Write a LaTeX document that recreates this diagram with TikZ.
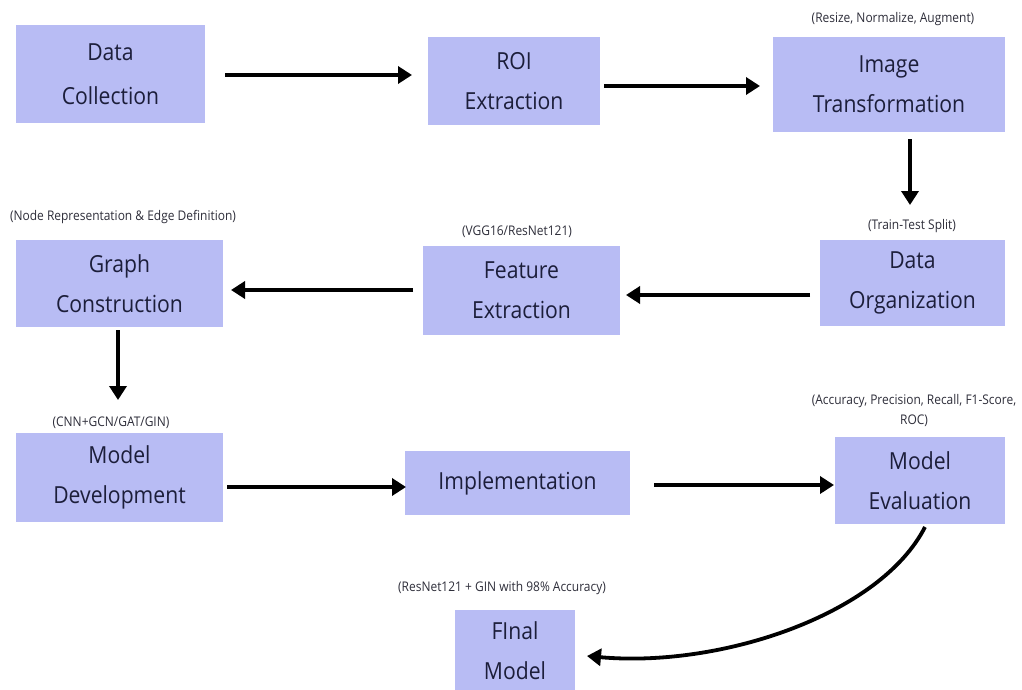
\documentclass[tikz,border=0pt]{standalone}
\usepackage{fontspec}
\setmainfont{Open Sans}[FakeStretch=0.9]
\usetikzlibrary{arrows.meta}
\definecolor{boxfill}{HTML}{B8BCF4}
\definecolor{boxtext}{HTML}{1C1E3A}
\definecolor{labtext}{HTML}{2E2E3A}
\tikzset{
  stepbox/.style={rectangle, fill=boxfill, draw=none, align=center, text=boxtext,
    font=\fontsize{23.5}{40}\selectfont, inner sep=0pt},
  lab/.style={text=labtext, font=\fontsize{13.3}{20}\selectfont, align=center, inner sep=0pt},
  flow/.style={line width=3.8pt, -{Triangle[length=14pt,width=17pt]}},
}
\begin{document}
\begin{tikzpicture}[x=1pt,y=-1pt]
\useasboundingbox (0,0) rectangle (1022,690);
\fill[white] (0,0) rectangle (1022,690);
% boxes
\node[stepbox, minimum width=189pt, minimum height=98pt] (dc) at (110.5,74) {Data\\[4pt]Collection};
\node[stepbox, minimum width=172pt, minimum height=88pt] (roi) at (514,81) {ROI\\Extraction};
\node[stepbox, minimum width=232pt, minimum height=95pt] (it) at (889,84.5) {Image\\Transformation};
\node[stepbox, minimum width=185pt, minimum height=86pt] (do) at (912.5,283) {Data\\Organization};
\node[stepbox, minimum width=197pt, minimum height=89pt] (fe) at (521.5,290.5) {Feature\\Extraction};
\node[stepbox, minimum width=207pt, minimum height=87pt] (gc) at (119.5,283.5) {Graph\\Construction};
\node[stepbox, minimum width=207pt, minimum height=89pt] (md) at (119.5,477.5) {Model\\Development};
\node[stepbox, minimum width=225pt, minimum height=64pt] (impl) at (517.5,483) {Implementation};
\node[stepbox, minimum width=170pt, minimum height=87pt] (me) at (920,480.5) {Model\\Evaluation};
\node[stepbox, minimum width=120pt, minimum height=82pt] (fm) at (515,651) {FInal\\Model};
% labels
\node[lab] (lit) at (893,19) {(Resize, Normalize, Augment)};
\node[lab] (ldo) at (912,226) {(Train-Test Split)};
\node[lab] (lfe) at (517,232) {(VGG16/ResNet121)};
\node[lab] (lgc) at (123,217) {(Node Representation \& Edge Definition)};
\node[lab] (lmd) at (111,423) {(CNN+GCN/GAT/GIN)};
\node[lab] (lme) at (914,410) {(Accuracy, Precision, Recall, F1-Score,\\ROC)};
\node[lab] (lfm) at (502,588) {(ResNet121 + GIN with 98\% Accuracy)};
% connector endpoints
\coordinate (a1s) at (225,75);  \coordinate (a1e) at (412,75);
\coordinate (a2s) at (604,86);  \coordinate (a2e) at (760,86);
\coordinate (a3s) at (910,139); \coordinate (a3e) at (910,205);
\coordinate (a4s) at (810,295); \coordinate (a4e) at (626,295);
\coordinate (a5s) at (413,290); \coordinate (a5e) at (231,290);
\coordinate (a6s) at (118,330); \coordinate (a6e) at (118,400);
\coordinate (a7s) at (227,487); \coordinate (a7e) at (406,487);
\coordinate (a8s) at (654,485); \coordinate (a8e) at (834,485);
\coordinate (a9s) at (925,527); \coordinate (a9e) at (587,656);
\draw[flow] (a1s) -- (a1e);
\draw[flow] (a2s) -- (a2e);
\draw[flow] (a3s) -- (a3e);
\draw[flow] (a4s) -- (a4e);
\draw[flow] (a5s) -- (a5e);
\draw[flow] (a6s) -- (a6e);
\draw[flow] (a7s) -- (a7e);
\draw[flow] (a8s) -- (a8e);
\draw[flow] (a9s) .. controls (880,615) and (720,668) .. (a9e);
\end{tikzpicture}
\end{document}
